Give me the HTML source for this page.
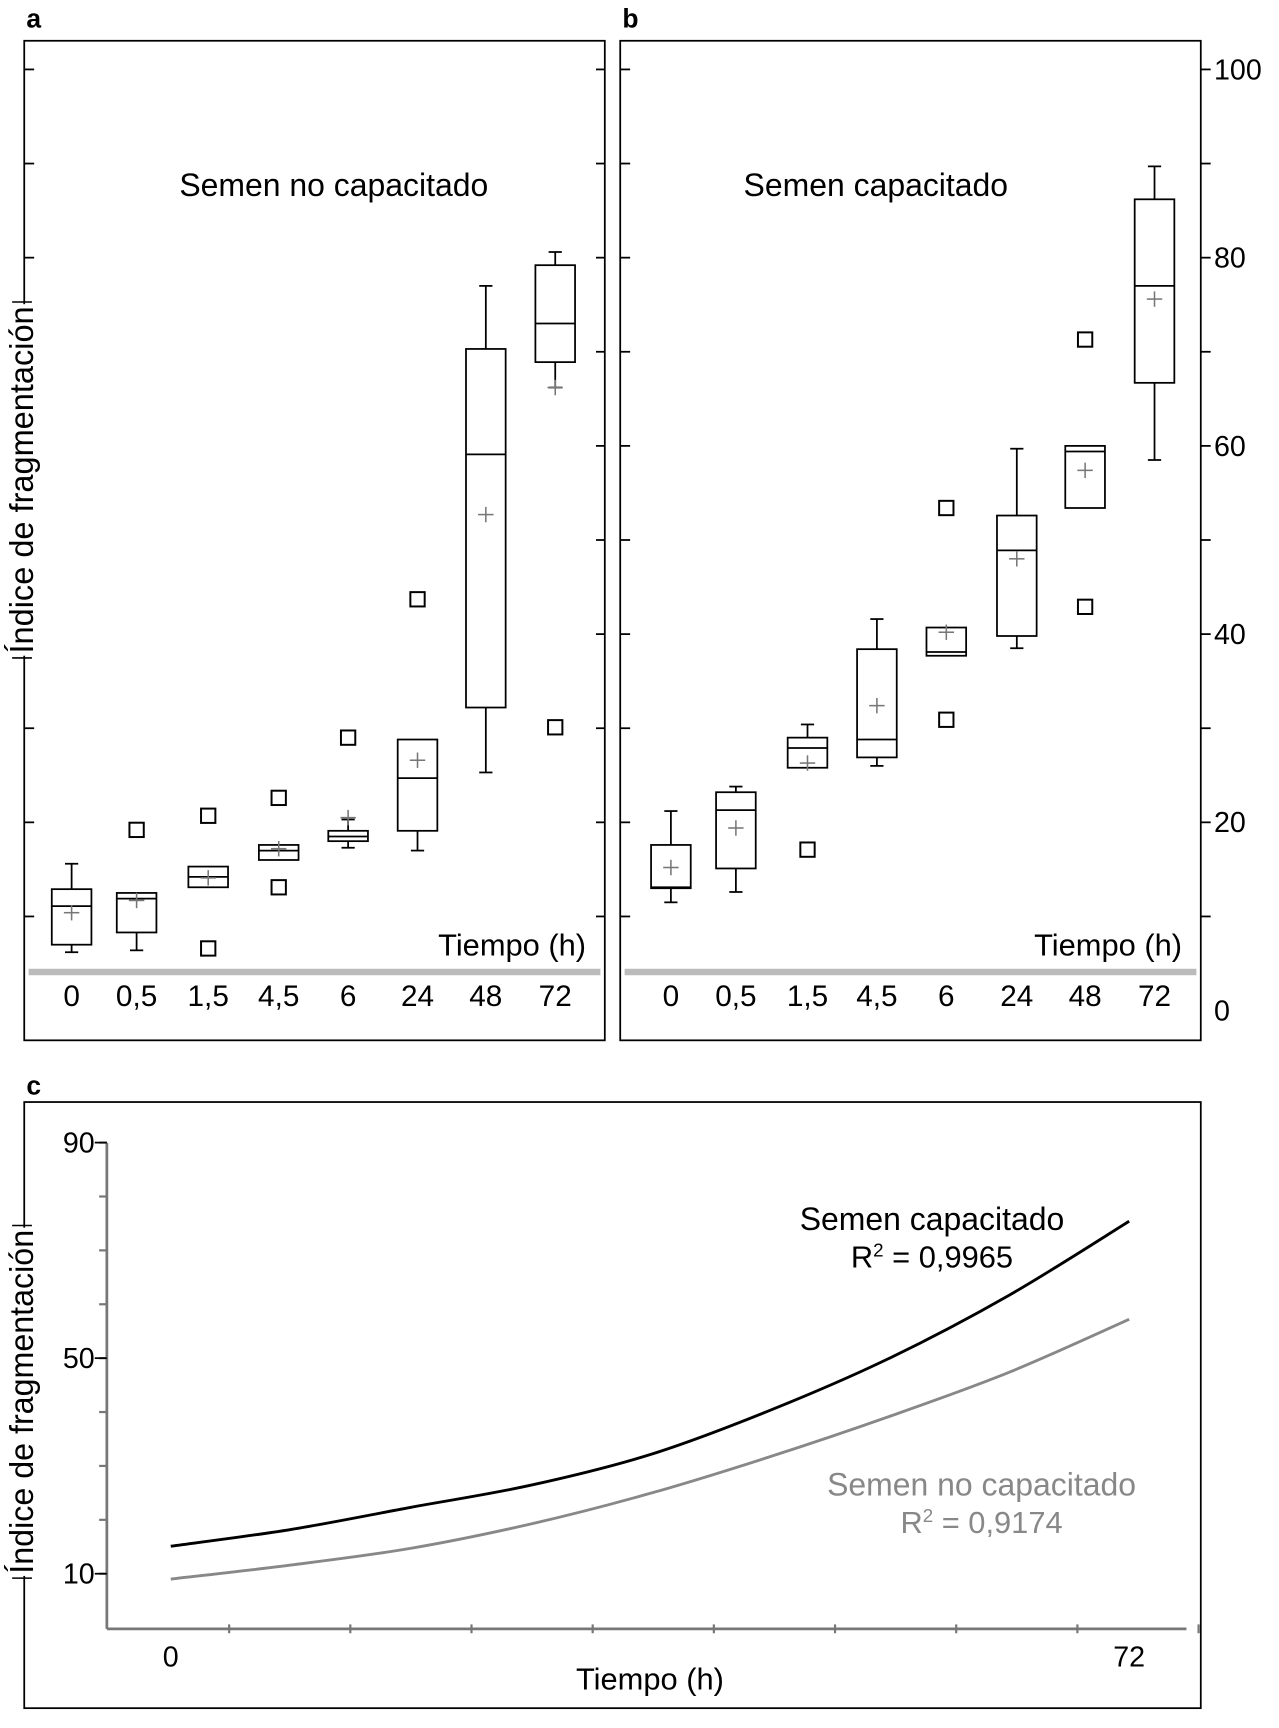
<!DOCTYPE html>
<html><head><meta charset="utf-8"><style>
html,body{margin:0;padding:0;background:#fff}
svg{display:block}
text{font-family:"Liberation Sans",Arial,sans-serif}
</style></head><body>
<svg id="fig" width="1279" height="1728" viewBox="0 0 1161 1568" preserveAspectRatio="none" xmlns="http://www.w3.org/2000/svg">
<rect width="1161" height="1568" fill="#fff"/>
<g id="pa"></g>
<g id="pb"></g>
<g id="pc"></g>
</svg>
<script>
// ---- panels a/b data ----
const categories = ["0","0,5","1,5","4,5","6","24","48","72"];
// [whiskerLow, q1, median, q3, whiskerHigh]
const boxesA = [
 [6.2,7.0,11.1,12.9,15.6],[6.4,8.3,11.9,12.5,12.5],[13.1,13.1,14.2,15.3,15.3],[16.0,16.0,17.0,17.6,17.6],
 [17.3,18.0,18.5,19.1,20.3],[17.0,19.1,24.7,28.8,28.8],[25.3,32.2,59.1,70.3,77.0],[66.2,68.9,73.0,79.2,80.6]];
const meansA = [10.4,11.7,14.1,17.2,20.5,26.6,52.7,66.2];
const outliersA = [[],[19.2],[20.7,6.6],[22.6,13.1],[29.0],[43.7],[],[30.1]];
const boxesB = [
 [11.5,13.0,13.1,17.6,21.2],[12.6,15.1,21.3,23.2,23.8],[25.8,25.8,27.9,29.0,30.4],[26.0,26.9,28.8,38.4,41.6],
 [37.7,37.7,38.1,40.7,40.7],[38.5,39.8,48.9,52.6,59.7],[53.4,53.4,59.4,60.0,60.0],[58.5,66.7,77.0,86.2,89.7]];
const meansB = [15.2,19.4,26.3,32.4,40.2,48.0,57.4,75.6];
const outliersB = [[],[],[17.1],[],[53.4,30.9],[],[71.3,42.9],[]];
const yTicksB = [0,20,40,60,80,100];
// ---- panel c data ----
const timesC = [0,9,18,27,36,45,54,63,72];
const capC = [15.1,18.2,22.3,26.4,32.1,40.3,50.0,61.7,75.4];
const noCapC = [9.0,11.6,14.7,19.2,24.9,31.7,39.2,47.4,57.2];
const yTicksC = [10,50,90];
const xTicksC = [0,72];

const NS="http://www.w3.org/2000/svg";
function mk(p,tag,attrs){const e=document.createElementNS(NS,tag);for(const k in attrs)e.setAttribute(k,attrs[k]);p.appendChild(e);return e;}
function ln(p,x1,y1,x2,y2,stroke,w){return mk(p,"line",{x1,y1,x2,y2,stroke:stroke||"#000","stroke-width":w||1.6});}
function tx(p,x,y,s,size,anchor,fill){const t=mk(p,"text",{x,y,"font-size":size,"text-anchor":anchor||"middle",fill:fill||"#000"});t.textContent=s;return t;}
const yAB = v => 917 - v*8.54;

function panel(g, x0, x1, xs, boxes, means, outliers, title, titleX, letter, rightAxis){
  const r=mk(g,"rect",{x:x0,y:37,width:x1-x0,height:907,fill:"none",stroke:"#000","stroke-width":1.6});
  
  
  const L=tx(g,x0+2,25,letter,24,"start");L.setAttribute("font-weight","bold");
  
  
  for(let v=10;v<=100;v+=10){
    const y=yAB(v);
    ln(g,x0,y,x0+9,y);
    if(rightAxis) ln(g,x1,y,x1+9,y); else ln(g,x1-8,y,x1,y);
  }
  const gl=mk(g,"line",{x1:x0+4,y1:882,x2:x1-4,y2:882,stroke:"#bbb","stroke-width":6});
  
  
  const t=tx(g,titleX,178,title,29);
  
  
  const xt=tx(g,x1-17,867,"Tiempo (h)",28,"end");
  
  
  categories.forEach((c,i)=>{
    const x=xs[i];
    const lab=tx(g,x,913,c,27);
    
    
    const b=boxes[i], hw=18;
    const bg=mk(g,"g",{});
    
    
    if(b[0]<b[1]){ln(bg,x,yAB(b[0]),x,yAB(b[1]));ln(bg,x-6,yAB(b[0]),x+6,yAB(b[0]));}
    if(b[4]>b[3]){ln(bg,x,yAB(b[3]),x,yAB(b[4]));ln(bg,x-6,yAB(b[4]),x+6,yAB(b[4]));}
    mk(bg,"rect",{x:x-hw,y:yAB(b[3]),width:2*hw,height:Math.max(1,yAB(b[1])-yAB(b[3])),fill:"none",stroke:"#000","stroke-width":1.6});
    ln(bg,x-hw,yAB(b[2]),x+hw,yAB(b[2]));
    const m=yAB(means[i]);
    const mg=mk(g,"g",{});
    
    
    ln(mg,x-7,m,x+7,m,"#777",1.4);ln(mg,x,m-7,x,m+7,"#777",1.4);
    outliers[i].forEach(v=>{
      const o=mk(g,"rect",{x:x-6.5,y:yAB(v)-6.5,width:13,height:13,fill:"none",stroke:"#000","stroke-width":1.8});
      
      
    });
  });
  if(rightAxis){
    yTicksB.forEach(v=>{
      const l=tx(g,x1+12,yAB(v)+9,String(v),26,"start");
      
      
    });
  }
}
const pa=document.getElementById("pa"), pb=document.getElementById("pb"), pc=document.getElementById("pc");
panel(pa,22,549,[65,124,189,253,316,379,441,504],boxesA,meansA,outliersA,"Semen no capacitado",303,"a",false);
panel(pb,563,1090,[609,668,733,796,859,923,985,1048],boxesB,meansB,outliersB,"Semen capacitado",795,"b",true);

function yLabel(g,cx,top,bottom){
  mk(g,"rect",{x:cx-15,y:top+2,width:30,height:bottom-top-4,fill:"#fff"});
  ln(g,cx-9,top,cx+9,top,"#000",1.4);
  ln(g,cx-9,bottom,cx+9,bottom,"#000",1.4);
  const t=tx(g,0,0,"Índice de fragmentación",30);
  t.setAttribute("textLength",bottom-top-8);
  t.setAttribute("lengthAdjust","spacingAndGlyphs");
  t.setAttribute("transform",`translate(${cx+10},${(top+bottom)/2}) rotate(-90)`);
  
  
}
yLabel(pa,20,274,597);

// ---- panel c ----
const xC = t => 155 + t*(1025-155)/72;
const yC = v => 1428 - (v-10)*4.89;
const fr=mk(pc,"rect",{x:22,y:1000,width:1068,height:550,fill:"none",stroke:"#000","stroke-width":1.6});


const Lc=tx(pc,24,993,"c",24,"start");Lc.setAttribute("font-weight","bold");


const ya=ln(pc,97,1037,97,1478,"#777",2.5);


const xa=ln(pc,97,1478,1077,1478,"#777",2.5);


for(let v=10;v<=90;v+=10){ln(pc,90,yC(v),97,yC(v),"#777",2);}
for(let k=0;k<9;k++){const x=208+k*110;ln(pc,x,1474,x,1482,"#777",2);}
yTicksC.forEach(v=>{ln(pc,86,yC(v),97,yC(v),"#000",1.6);
  const l=tx(pc,86,yC(v)+9,String(v),26,"end");
  
  });
xTicksC.forEach(t=>{const l=tx(pc,xC(t),1512,String(t),26);
  
  });
const xtc=tx(pc,590,1533,"Tiempo (h)",28);


yLabel(pc,20,1112,1432);
function curve(vals,color,name){
  const P=timesC.map((t,i)=>[xC(t),yC(vals[i])]);
  let d="M"+P[0][0]+","+P[0][1];
  for(let i=0;i<P.length-1;i++){
    const p0=P[Math.max(0,i-1)],p1=P[i],p2=P[i+1],p3=P[Math.min(P.length-1,i+2)];
    const c1=[p1[0]+(p2[0]-p0[0])/6,p1[1]+(p2[1]-p0[1])/6];
    const c2=[p2[0]-(p3[0]-p1[0])/6,p2[1]-(p3[1]-p1[1])/6];
    d+=`C${c1[0]},${c1[1]} ${c2[0]},${c2[1]} ${p2[0]},${p2[1]}`;
  }
  const p=mk(pc,"path",{d,fill:"none",stroke:color,"stroke-width":2.6,"stroke-linejoin":"round"});
  
  
}
curve(capC,"#000","line-semen-capacitado");
curve(noCapC,"#888","line-semen-no-capacitado");
const l1=tx(pc,846,1116,"Semen capacitado",29);


const r1=tx(pc,846,1150,"",28);
r1.innerHTML='R<tspan font-size="17" dy="-10">2</tspan><tspan dy="10"> = 0,9965</tspan>';


const l2=tx(pc,891,1357,"Semen no capacitado",29,"middle","#888");


const r2=tx(pc,891,1391,"",28,"middle","#888");
r2.innerHTML='R<tspan font-size="17" dy="-10">2</tspan><tspan dy="10"> = 0,9174</tspan>';


</script>
</body></html>
